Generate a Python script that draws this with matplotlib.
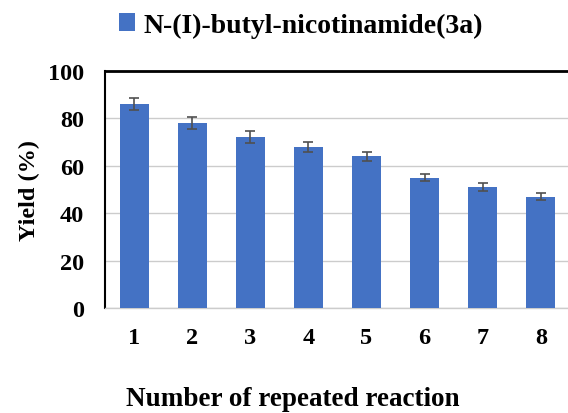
import matplotlib
matplotlib.use("Agg")
import matplotlib.pyplot as plt
from matplotlib.patches import Patch

runs = [1, 2, 3, 4, 5, 6, 7, 8]
tick_labels = ["1", "2", "3", "4", "5", "6", "7", "8"]
yields = [86, 78, 72, 68, 64, 55, 51, 47]
errors = [2.5, 2.5, 2.5, 2.0, 1.8, 1.6, 1.6, 1.4]
series_name = "N-(I)-butyl-nicotinamide(3a)"

plt.rcParams['font.family'] = ['Liberation Serif', 'DejaVu Serif']
plt.rcParams['font.weight'] = 'bold'

W, H = 568, 414
fig = plt.figure(figsize=(W/100, H/100), dpi=100)
left, right, top, bottom = 105, 570, 72, 309
ax = fig.add_axes([left/W, 1-bottom/H, (right-left)/W, (bottom-top)/H])

bar_color = "#4472C4"
ax.bar(runs, yields, width=0.5, color=bar_color, zorder=3,
       yerr=errors, error_kw=dict(ecolor="#505050", elinewidth=1.2, capsize=3.5, capthick=1.2, zorder=4))

ax.set_xlim(0.5, 8.5)
ax.set_ylim(0, 100)
ax.set_yticks([0, 20, 40, 60, 80, 100])
ax.set_xticks(runs)
ax.set_xticklabels(tick_labels)
ax.yaxis.grid(True, color="#cccccc", linewidth=1.0, zorder=0)
ax.set_axisbelow(True)
ax.tick_params(axis='both', length=0, labelsize=17.5)
ax.tick_params(axis='y', pad=15)
ax.tick_params(axis='x', pad=14)
for lbl in ax.get_xticklabels() + ax.get_yticklabels():
    lbl.set_fontweight('bold')

ax.spines['top'].set_color('black')
ax.spines['top'].set_linewidth(2)
ax.spines['left'].set_color('black')
ax.spines['left'].set_linewidth(1.5)
ax.spines['bottom'].set_color('#cccccc')
ax.spines['bottom'].set_linewidth(1.0)
ax.spines['right'].set_visible(False)

ax.set_ylabel("Yield (%)", fontsize=17.5, fontweight='bold', labelpad=6)
ax.set_xlabel("Number of repeated reaction", fontsize=19.5, fontweight='bold', labelpad=27)
ax.xaxis.label.set_x((293 - left) / (right - left))

handle = Patch(facecolor=bar_color, edgecolor='none')
fig.legend([handle], [series_name], loc='center', bbox_to_anchor=(301/W, 1-26/H),
           frameon=False, prop=dict(size=20, weight='bold'), handlelength=0.55, handleheight=0.6,
           handletextpad=0.3)

fig.savefig("out.png", dpi=100)
